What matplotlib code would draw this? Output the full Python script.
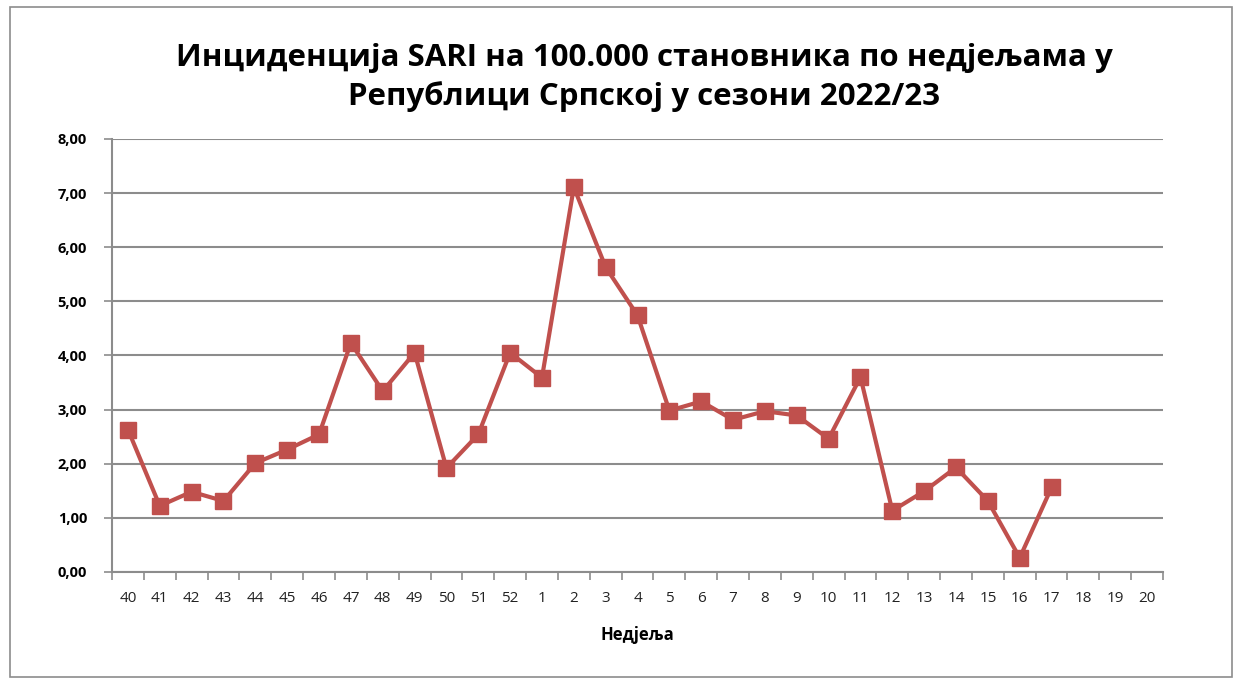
import numpy as np
import matplotlib
matplotlib.use("Agg")
import matplotlib.pyplot as plt
from matplotlib.patches import Rectangle

# weeks of the 2022/23 season
weeks = [str(w) for w in range(40, 53)] + [str(w) for w in range(1, 21)]
# incidence per 100.000 (weeks 18-20 not reported yet)
incidence = [2.63, 1.22, 1.48, 1.31, 2.01, 2.26, 2.54, 4.23, 3.34, 4.05,
             1.92, 2.54, 4.05, 3.59, 7.11, 5.63, 4.74, 2.98, 3.15, 2.81,
             2.97, 2.89, 2.46, 3.60, 1.13, 1.49, 1.93, 1.31, 0.26, 1.56]
yticks = np.arange(0, 9, 1)

title = "Инциденција SARI на 100.000 становника по недјељама у\nРепублици Српској у сезони 2022/23"
xlabel = "Недјеља"

plt.rcParams['font.family'] = ['Open Sans', 'DejaVu Sans']

fig = plt.figure(figsize=(12.39, 6.80), dpi=100)
ax = fig.add_axes([0.0904, 0.159, 0.8483, 0.6366])

red = "#C0504D"
grid_c = "#8C8C8C"

x = np.arange(len(incidence))
ax.plot(x, incidence, color=red, lw=3, marker="s", markersize=12,
        markerfacecolor=red, markeredgecolor=red, zorder=3)

ax.set_xlim(-0.5, len(weeks) - 0.5)
ax.set_ylim(0, 8)
ax.set_yticks(yticks)
ax.set_yticklabels([f"{v:.2f}".replace(".", ",") for v in yticks],
                   fontsize=10.5, fontweight="bold")
ax.set_xticks(np.arange(len(weeks)))
ax.set_xticklabels(weeks, fontsize=11, color="#222222")
ax.set_xticks(np.arange(len(weeks) + 1) - 0.5, minor=True)
ax.tick_params(axis="x", which="major", length=0, pad=14)
ax.tick_params(axis="x", which="minor", length=6, color=grid_c, width=1.2)
ax.tick_params(axis="y", length=6, color=grid_c, width=1.2, pad=12)

ax.grid(axis="y", color=grid_c, lw=1.5)
ax.set_axisbelow(True)
for s in ["top", "right"]:
    ax.spines[s].set_visible(False)
for s in ["left", "bottom"]:
    ax.spines[s].set_color(grid_c)
    ax.spines[s].set_linewidth(1.5)

ax.set_xlabel(xlabel, fontsize=12, fontweight="bold", labelpad=14)
fig.text(0.52, 0.886, title, ha="center", va="center", fontsize=22.5,
         fontweight="bold", linespacing=1.3)

# outer frame of the chart
fig.patches.append(Rectangle((0.008, 0.004), 0.986, 0.985, transform=fig.transFigure,
                             fill=False, edgecolor="#8C8C8C", lw=1.2))

fig.savefig("out.png", dpi=100)
